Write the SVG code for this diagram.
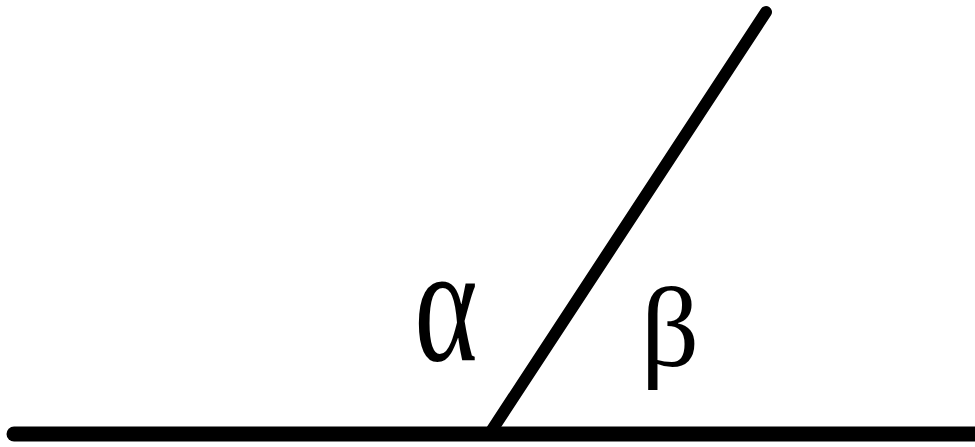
<svg xmlns="http://www.w3.org/2000/svg" width="975" height="447" viewBox="0 0 975 447">
<style>
.ln{stroke:#000;stroke-linecap:round;fill:none}
.lbl{font-family:"Liberation Serif",serif;fill:#000}
</style>
<rect width="975" height="447" fill="#fff"/>
<g id="connectors">
<line class="ln" x1="14" y1="434" x2="975" y2="434" stroke-width="15"/>
<line class="ln" x1="492" y1="430" x2="766" y2="12" stroke-width="12"/>
</g>
<g id="alpha"><text class="lbl" transform="translate(446,360) scale(0.72,1)" text-anchor="middle" font-size="168">α</text></g>
<g id="beta"><text class="lbl" x="670" y="366" text-anchor="middle" font-size="115">β</text></g>
</svg>
